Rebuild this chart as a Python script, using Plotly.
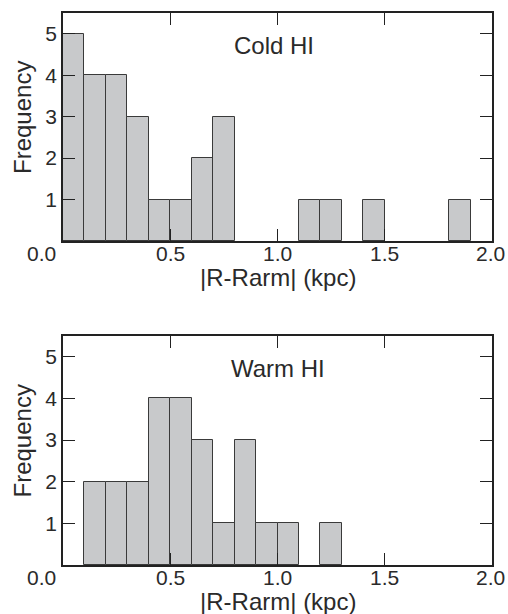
import plotly.graph_objects as go

# --- data ---
bin_left = [0.0, 0.1, 0.2, 0.3, 0.4, 0.5, 0.6, 0.7, 0.8, 0.9,
            1.0, 1.1, 1.2, 1.3, 1.4, 1.5, 1.6, 1.7, 1.8, 1.9]
bin_width = 0.1
cold_counts = [5, 4, 4, 3, 1, 1, 2, 3, 0, 0, 0, 1, 1, 0, 1, 0, 0, 0, 1, 0]
warm_counts = [0, 2, 2, 2, 4, 4, 3, 1, 3, 1, 1, 0, 1, 0, 0, 0, 0, 0, 0, 0]
panel_labels = ["Cold HI", "Warm HI"]
x_tickvals = [0.0, 0.5, 1.0, 1.5, 2.0]
x_ticktext = ["0.0", "0.5", "1.0", "1.5", "2.0"]
y_tickvals = [1, 2, 3, 4, 5]
x_title = "|R-Rarm| (kpc)"
y_title = "Frequency"

W, H = 508, 614
ML, MR, MT, MB = 63, 16, 13, 49
ph = H - MT - MB
top_dom = [1 - 228 / ph, 1.0]
bot_dom = [0.0, 229 / ph]

FONT = "Liberation Sans, Arial, sans-serif"
TXT = "#2a2a2a"
FILL = "#c8c9cb"
EDGE = "#3a3a3a"

fig = go.Figure()
for i, counts in enumerate([cold_counts, warm_counts]):
    xs = [l for l, c in zip(bin_left, counts) if c > 0]
    ys = [c for c in counts if c > 0]
    fig.add_trace(go.Bar(
        x=xs, y=ys, width=bin_width, offset=0,
        marker=dict(color=FILL, line=dict(color=EDGE, width=1)),
        xaxis="x" if i == 0 else "x2", yaxis="y" if i == 0 else "y2",
        showlegend=False, hoverinfo="skip"))

ax_common = dict(showline=True, linecolor="#222", linewidth=1.5, mirror="ticks",
                 ticks="inside", ticklen=12, tickwidth=1.3, tickcolor="#222",
                 showgrid=False, zeroline=False, layer="above traces",
                 automargin=False,
                 tickfont=dict(family=FONT, size=21, color=TXT))

fig.update_layout(
    width=W, height=H, margin=dict(l=ML, r=MR, t=MT, b=MB),
    paper_bgcolor="white", plot_bgcolor="white",
    bargap=0,
    xaxis=dict(range=[0, 2.0], domain=[0, 1], anchor="y",
               tickvals=x_tickvals, showticklabels=False, **ax_common),
    yaxis=dict(range=[0, 5.5], domain=top_dom, anchor="x",
               tickvals=y_tickvals, **ax_common),
    xaxis2=dict(range=[0, 2.0], domain=[0, 1], anchor="y2",
                tickvals=x_tickvals, showticklabels=False, **ax_common),
    yaxis2=dict(range=[0, 5.5], domain=bot_dom, anchor="x2",
                tickvals=y_tickvals, **ax_common),
)

ann = []
for i, (xr, yr) in enumerate([("x", "y"), ("x2", "y2")]):
    # panel label
    ann.append(dict(x=1.0, y=4.72, xref=xr, yref=yr, text=panel_labels[i],
                    showarrow=False, xanchor="center", yanchor="middle",
                    xshift=-4 if i == 0 else 0,
                    font=dict(family=FONT, size=24, color=TXT)))
    # x tick labels (0.0 nudged left, as in the original)
    for v, t in zip(x_tickvals, x_ticktext):
        ann.append(dict(x=v, y=0, xref=xr, yref=yr + " domain", text=t,
                        showarrow=False, xanchor="center", yanchor="top",
                        xshift=-22 if v == 0 else (-2 if v == 2.0 else 0),
                        yshift=1,
                        font=dict(family=FONT, size=21, color=TXT)))
    # x title
    ann.append(dict(x=0.5, y=0, xref=xr + " domain", yref=yr + " domain",
                    text=x_title, showarrow=False, xanchor="center",
                    yanchor="top", yshift=-21,
                    font=dict(family=FONT, size=24, color=TXT)))
    # y title
    ann.append(dict(x=0, y=0.5, xref=xr + " domain", yref=yr + " domain",
                    text=y_title, textangle=-90, showarrow=False,
                    xanchor="center", yanchor="middle", xshift=-41, yshift=9,
                    font=dict(family=FONT, size=24, color=TXT)))
fig.update_layout(annotations=ann)

fig.write_html("out.html")
